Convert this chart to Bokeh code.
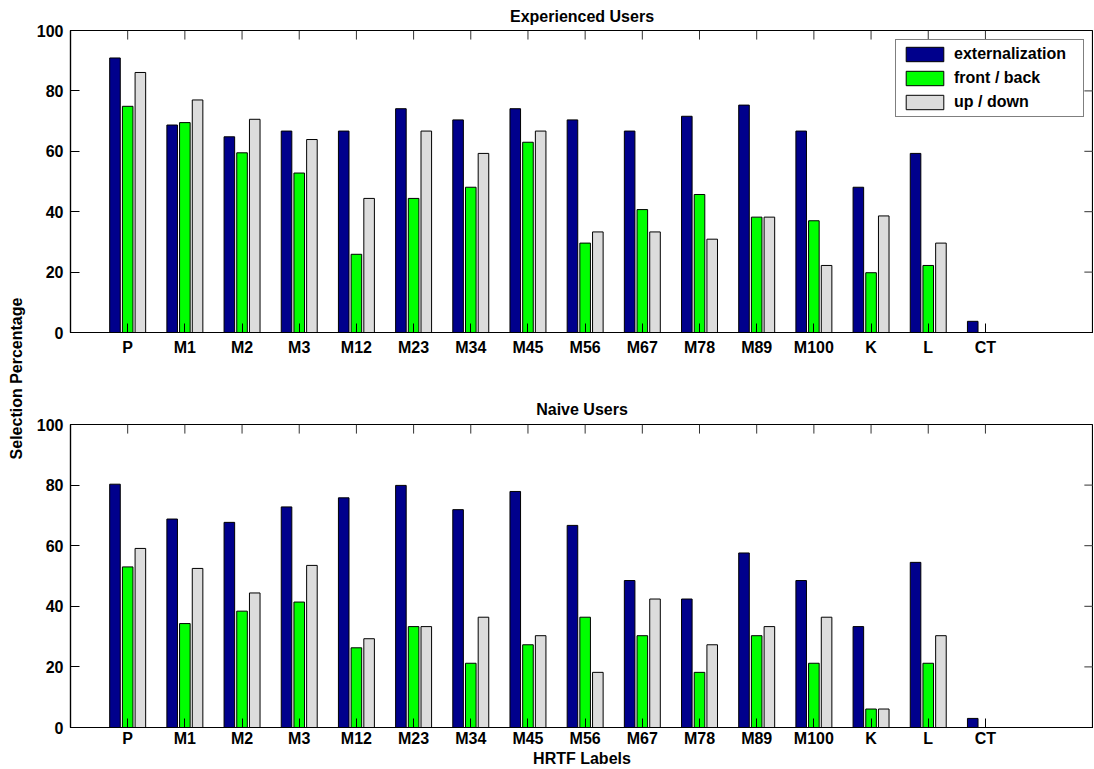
from math import pi
from bokeh.plotting import figure
from bokeh.layouts import row, column
from bokeh.models import Range1d, FixedTicker, ColumnDataSource
from bokeh.transform import dodge
from bokeh.core.properties import value
from bokeh.embed import file_html
from bokeh.resources import INLINE

# ---------------- data ----------------
labels = ["P", "M1", "M2", "M3", "M12", "M23", "M34", "M45",
          "M56", "M67", "M78", "M89", "M100", "K", "L", "CT"]
series = ["externalization", "front / back", "up / down"]

exp_ext = [90.9, 68.7, 64.8, 66.7, 66.7, 74.1, 70.4, 74.1, 70.4, 66.7, 71.6, 75.3, 66.7, 48.1, 59.3, 3.7]
exp_fb = [74.9, 69.5, 59.5, 52.8, 25.9, 44.4, 48.1, 63.0, 29.6, 40.7, 45.7, 38.2, 37.0, 19.8, 22.2, 0.0]
exp_ud = [86.1, 77.0, 70.6, 63.9, 44.4, 66.7, 59.3, 66.7, 33.3, 33.3, 30.9, 38.2, 22.2, 38.6, 29.6, 0.0]

nai_ext = [80.3, 68.8, 67.7, 72.8, 75.8, 79.9, 71.9, 77.9, 66.7, 48.5, 42.4, 57.6, 48.5, 33.3, 54.5, 3.0]
nai_fb = [53.0, 34.3, 38.4, 41.4, 26.3, 33.3, 21.2, 27.3, 36.4, 30.3, 18.2, 30.3, 21.2, 6.1, 21.2, 0.0]
nai_ud = [59.1, 52.5, 44.4, 53.5, 29.3, 33.3, 36.4, 30.3, 18.2, 42.4, 27.3, 33.3, 36.4, 6.1, 30.3, 0.0]

x_pos = list(range(1, len(labels) + 1))
y_ticks = [0, 20, 40, 60, 80, 100]

colors = ["#00008C", "#00FF00", "#DCDCDC"]
offsets = [-0.222, 0.0, 0.222]
BAR_W = 0.185
FONT = "Liberation Sans"
FS = "16px"
X_END = 17.89
TICK_Y = 3.0      # inward tick length on top edge (data units)
TICK_X = 0.16     # inward tick length on right edge (data units)


def style_axis(ax):
    ax.major_label_text_font = FONT
    ax.major_label_text_font_size = FS
    ax.major_label_text_font_style = "bold"
    ax.major_label_text_color = "black"
    ax.axis_line_color = "black"
    ax.axis_line_width = 1.2
    ax.major_tick_line_color = "black"
    ax.major_tick_in = 9
    ax.major_tick_out = 0
    ax.minor_tick_line_color = None


def make_panel(title, vals, height, b_top, b_bottom, xstand, tstand,
               xlabel=None, legend=False):
    p = figure(width=1061, height=height,
               x_range=Range1d(0, X_END), y_range=Range1d(0, 100),
               output_backend="svg", toolbar_location=None,
               min_border_left=38, min_border_right=0,
               min_border_top=b_top, min_border_bottom=b_bottom)
    p.xgrid.visible = False
    p.ygrid.visible = False
    p.outline_line_color = "black"
    p.outline_line_width = 1.2
    p.background_fill_color = "white"
    p.border_fill_color = "white"

    # inward ticks on top and right edges
    p.segment(x0=x_pos, y0=[100] * len(x_pos), x1=x_pos,
              y1=[100 - TICK_Y] * len(x_pos), line_color="#333333", line_width=1)
    inner = y_ticks[1:-1]
    p.segment(x0=[X_END] * len(inner), y0=inner, x1=[X_END - TICK_X] * len(inner),
              y1=inner, line_color="#333333", line_width=1)

    src = ColumnDataSource(dict(x=x_pos, s0=vals[0], s1=vals[1], s2=vals[2]))
    for i, col in enumerate(["s0", "s1", "s2"]):
        kw = dict(legend_label=series[i]) if legend else {}
        p.vbar(x=dodge("x", offsets[i], range=p.x_range), top=col, width=BAR_W,
               source=src, fill_color=colors[i], line_color="black",
               line_width=1, **kw)

    xa = p.below[0]
    ya = p.left[0]
    xa.ticker = FixedTicker(ticks=x_pos)
    xa.major_label_overrides = {v: lab for v, lab in zip(x_pos, labels)}
    xa.major_label_standoff = xstand
    ya.ticker = FixedTicker(ticks=y_ticks)
    ya.major_label_standoff = 7
    style_axis(xa)
    style_axis(ya)

    if xlabel:
        xa.axis_label = xlabel
        xa.axis_label_text_font = FONT
        xa.axis_label_text_font_size = FS
        xa.axis_label_text_font_style = "bold"
        xa.axis_label_text_color = "black"
        xa.axis_label_standoff = 0

    p.title.text = title
    p.title.align = "center"
    p.title.text_font = FONT
    p.title.text_font_size = FS
    p.title.text_font_style = "bold"
    p.title.text_color = "black"
    p.title.standoff = tstand

    if legend:
        lg = p.legend[0]
        lg.location = "top_right"
        lg.margin = 9
        lg.padding = 5
        lg.spacing = 6
        lg.glyph_width = 47
        lg.glyph_height = 18
        lg.label_height = 18
        lg.label_width = 124
        lg.label_standoff = 6
        lg.label_text_font = FONT
        lg.label_text_font_size = FS
        lg.label_text_font_style = "bold"
        lg.label_text_color = "black"
        lg.border_line_color = "black"
        lg.border_line_width = 1
        lg.background_fill_alpha = 1.0
    return p


top = make_panel("Experienced Users", [exp_ext, exp_fb, exp_ud], 390, 30, 58,
                 xstand=6, tstand=11, legend=True)
bottom = make_panel("Naive Users", [nai_ext, nai_fb, nai_ud], 379, 34, 42,
                    xstand=2, tstand=14, xlabel="HRTF Labels")

lab = figure(width=32, height=769, x_range=Range1d(0, 32), y_range=Range1d(0, 769),
             output_backend="svg", toolbar_location=None, min_border=0)
lab.axis.visible = False
lab.grid.visible = False
lab.outline_line_color = None
lab.text(x=[16], y=[391], text=["Selection Percentage"], angle=pi / 2,
         text_align="center", text_baseline="middle",
         text_font=value(FONT), text_font_size=FS, text_font_style="bold",
         text_color="black")

layout = row(lab, column(top, bottom))
open("out.html", "w").write(file_html(layout, INLINE))
